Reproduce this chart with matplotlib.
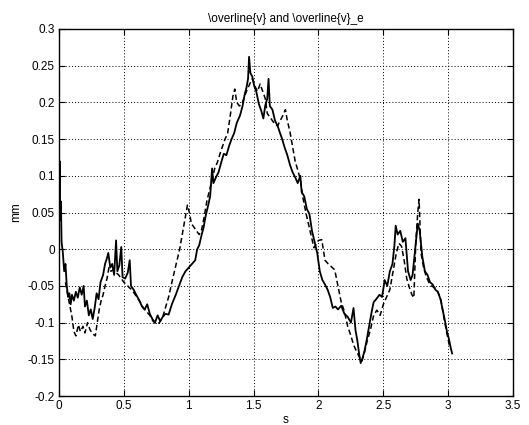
import numpy as np
import matplotlib
matplotlib.use("Agg")
import matplotlib.pyplot as plt

plt.rcParams['font.family'] = ['Liberation Sans', 'DejaVu Sans']

# measured speed, solid trace
solid_t = [0.000, 0.005, 0.010, 0.015, 0.020, 0.030, 0.040, 0.050, 0.060, 0.070,
           0.080, 0.090, 0.100, 0.115, 0.130, 0.145, 0.160, 0.175, 0.190, 0.200,
           0.215, 0.230, 0.245, 0.260, 0.275, 0.290, 0.305, 0.320, 0.340, 0.355,
           0.370, 0.380, 0.395, 0.410, 0.425, 0.440, 0.450, 0.465, 0.480, 0.490,
           0.510, 0.530, 0.545, 0.555, 0.575, 0.595, 0.620, 0.640, 0.660, 0.680,
           0.700, 0.720, 0.740, 0.760, 0.780, 0.800, 0.820, 0.845, 0.870, 0.900,
           0.925, 0.950, 0.975, 1.000, 1.025, 1.050, 1.065, 1.080, 1.100, 1.115,
           1.130, 1.150, 1.165, 1.180, 1.190, 1.210, 1.230, 1.250, 1.270, 1.290,
           1.310, 1.330, 1.350, 1.370, 1.395, 1.415, 1.430, 1.445, 1.457, 1.465,
           1.475, 1.490, 1.505, 1.520, 1.540, 1.560, 1.575, 1.590, 1.605, 1.615,
           1.625, 1.645, 1.665, 1.685, 1.700, 1.720, 1.740, 1.760, 1.780, 1.800,
           1.820, 1.840, 1.860, 1.870, 1.890, 1.910, 1.930, 1.950, 1.970, 1.990,
           2.010, 2.030, 2.050, 2.070, 2.090, 2.110, 2.130, 2.150, 2.175, 2.200,
           2.225, 2.250, 2.270, 2.285, 2.300, 2.315, 2.325, 2.340, 2.355, 2.370,
           2.390, 2.410, 2.425, 2.445, 2.470, 2.490, 2.510, 2.530, 2.550, 2.570,
           2.585, 2.595, 2.610, 2.630, 2.650, 2.670, 2.690, 2.710, 2.725, 2.745,
           2.765, 2.780, 2.800, 2.820, 2.840, 2.860, 2.880, 2.900, 2.920, 2.940,
           2.960, 2.975, 2.990, 3.005, 3.020, 3.030]
solid_v = [0.060, 0.120, 0.040, 0.065, 0.010, -0.005, -0.030, -0.020, -0.050, -0.065,
           -0.060, -0.075, -0.062, -0.070, -0.058, -0.066, -0.052, -0.062, -0.050, -0.078,
           -0.070, -0.090, -0.082, -0.095, -0.080, -0.060, -0.068, -0.045, -0.035, -0.020,
           -0.012, -0.005, -0.025, -0.020, -0.035, 0.012, -0.030, -0.022, 0.003, -0.038,
           -0.040, -0.032, -0.015, -0.050, -0.055, -0.062, -0.070, -0.078, -0.082, -0.075,
           -0.088, -0.095, -0.100, -0.090, -0.098, -0.092, -0.088, -0.089, -0.075, -0.062,
           -0.050, -0.038, -0.030, -0.025, -0.020, -0.015, 0.000, 0.005, 0.020, 0.030,
           0.045, 0.060, 0.072, 0.110, 0.090, 0.098, 0.105, 0.118, 0.130, 0.128,
           0.140, 0.150, 0.158, 0.172, 0.182, 0.195, 0.210, 0.220, 0.232, 0.262,
           0.240, 0.235, 0.222, 0.215, 0.198, 0.188, 0.178, 0.196, 0.205, 0.232,
           0.195, 0.190, 0.175, 0.168, 0.160, 0.150, 0.138, 0.128, 0.115, 0.105,
           0.098, 0.090, 0.100, 0.078, 0.072, 0.055, 0.048, 0.025, 0.010, -0.005,
           -0.030, -0.042, -0.048, -0.055, -0.065, -0.080, -0.078, -0.082, -0.077, -0.088,
           -0.092, -0.100, -0.080, -0.110, -0.125, -0.145, -0.155, -0.148, -0.138, -0.125,
           -0.105, -0.085, -0.072, -0.068, -0.062, -0.065, -0.042, -0.050, -0.030, -0.020,
           0.005, 0.032, 0.020, 0.025, 0.010, 0.015, -0.030, -0.042, -0.035, 0.000,
           0.035, 0.025, -0.010, -0.030, -0.035, -0.045, -0.048, -0.055, -0.058, -0.068,
           -0.085, -0.098, -0.112, -0.122, -0.135, -0.142]

# estimated speed, dashed trace
dashed_t = [0.050, 0.070, 0.085, 0.100, 0.115, 0.130, 0.150, 0.165, 0.185, 0.200,
            0.220, 0.240, 0.260, 0.280, 0.295, 0.310, 0.325, 0.340, 0.355, 0.370,
            0.385, 0.400, 0.420, 0.440, 0.460, 0.480, 0.500, 0.520, 0.540, 0.560,
            0.580, 0.600, 0.625, 0.650, 0.675, 0.700, 0.725, 0.750, 0.775, 0.800,
            0.820, 0.845, 0.870, 0.890, 0.910, 0.930, 0.950, 0.970, 0.990, 1.005,
            1.020, 1.040, 1.060, 1.080, 1.100, 1.120, 1.140, 1.160, 1.180, 1.200,
            1.220, 1.250, 1.280, 1.300, 1.320, 1.340, 1.355, 1.370, 1.390, 1.410,
            1.430, 1.445, 1.470, 1.490, 1.510, 1.530, 1.550, 1.570, 1.590, 1.605,
            1.625, 1.645, 1.665, 1.685, 1.705, 1.725, 1.745, 1.760, 1.780, 1.800,
            1.820, 1.840, 1.860, 1.880, 1.905, 1.935, 1.965, 2.000, 2.025, 2.050,
            2.075, 2.100, 2.125, 2.150, 2.175, 2.200, 2.225, 2.250, 2.270, 2.290,
            2.310, 2.335, 2.355, 2.375, 2.400, 2.425, 2.450, 2.475, 2.500, 2.525,
            2.550, 2.575, 2.600, 2.620, 2.640, 2.660, 2.680, 2.700, 2.720, 2.735,
            2.750, 2.765, 2.775, 2.790, 2.810, 2.830, 2.850, 2.870, 2.900, 2.920,
            2.945, 2.970, 2.990, 3.010]
dashed_v = [-0.045, -0.065, -0.078, -0.092, -0.112, -0.118, -0.103, -0.112, -0.105, -0.114,
            -0.100, -0.110, -0.115, -0.118, -0.100, -0.082, -0.070, -0.062, -0.050, -0.040,
            -0.025, -0.030, -0.028, -0.032, -0.035, -0.040, -0.045, -0.048, -0.052, -0.055,
            -0.060, -0.065, -0.072, -0.080, -0.085, -0.090, -0.098, -0.102, -0.100, -0.092,
            -0.080, -0.065, -0.045, -0.030, -0.015, 0.000, 0.020, 0.040, 0.060, 0.050,
            0.035, 0.030, 0.025, 0.020, 0.027, 0.045, 0.066, 0.080, 0.095, 0.110,
            0.118, 0.135, 0.150, 0.158, 0.182, 0.208, 0.218, 0.200, 0.195, 0.198,
            0.208, 0.215, 0.225, 0.232, 0.222, 0.215, 0.225, 0.215, 0.205, 0.185,
            0.180, 0.175, 0.170, 0.168, 0.175, 0.182, 0.190, 0.175, 0.160, 0.140,
            0.120, 0.108, 0.095, 0.070, 0.048, 0.025, 0.002, 0.012, 0.013, -0.015,
            -0.020, -0.024, -0.028, -0.050, -0.072, -0.085, -0.105, -0.118, -0.130, -0.138,
            -0.145, -0.152, -0.140, -0.125, -0.110, -0.090, -0.083, -0.090, -0.075, -0.065,
            -0.055, -0.030, -0.005, 0.008, 0.004, -0.015, -0.040, -0.052, -0.062, -0.066,
            0.010, 0.050, 0.068, -0.005, -0.025, -0.037, -0.045, -0.050, -0.053, -0.058,
            -0.070, -0.097, -0.115, -0.132]

x_ticks = [0, 0.5, 1, 1.5, 2, 2.5, 3, 3.5]
y_ticks = [-0.2, -0.15, -0.1, -0.05, 0, 0.05, 0.1, 0.15, 0.2, 0.25, 0.3]

fig = plt.figure(figsize=(5.29, 4.25), dpi=100)
ax = fig.add_axes([0.1115, 0.068, 0.8585, 0.864])

ax.plot(solid_t, solid_v, color='black', linewidth=1.3, linestyle='-')
ax.plot(dashed_t, dashed_v, color='black', linewidth=1.1, linestyle=(0, (3.5, 2)))

ax.set_xlim(0, 3.5)
ax.set_ylim(-0.2, 0.3)
ax.set_xticks(x_ticks)
ax.set_xticklabels(['0', '0.5', '1', '1.5', '2', '2.5', '3', '3.5'])
ax.set_yticks(y_ticks)
ax.set_yticklabels(['-0.2', '-0.15', '-0.1', '-0.05', '0', '0.05', '0.1', '0.15', '0.2', '0.25', '0.3'])
ax.tick_params(direction='in', length=4, width=0.8, labelsize=8.5,
               top=True, right=True, pad=3)
ax.grid(True, color='black', linestyle=(0, (1, 2.2)), linewidth=0.7)
for sp in ax.spines.values():
    sp.set_linewidth(1.0)

ax.set_title(r'\overline{v} and \overline{v}_e', fontsize=8.5, pad=5)
ax.set_xlabel('s', fontsize=8.5, labelpad=1)
ax.set_ylabel('mm', fontsize=8.5, labelpad=4)

fig.savefig('out.png', dpi=100)
